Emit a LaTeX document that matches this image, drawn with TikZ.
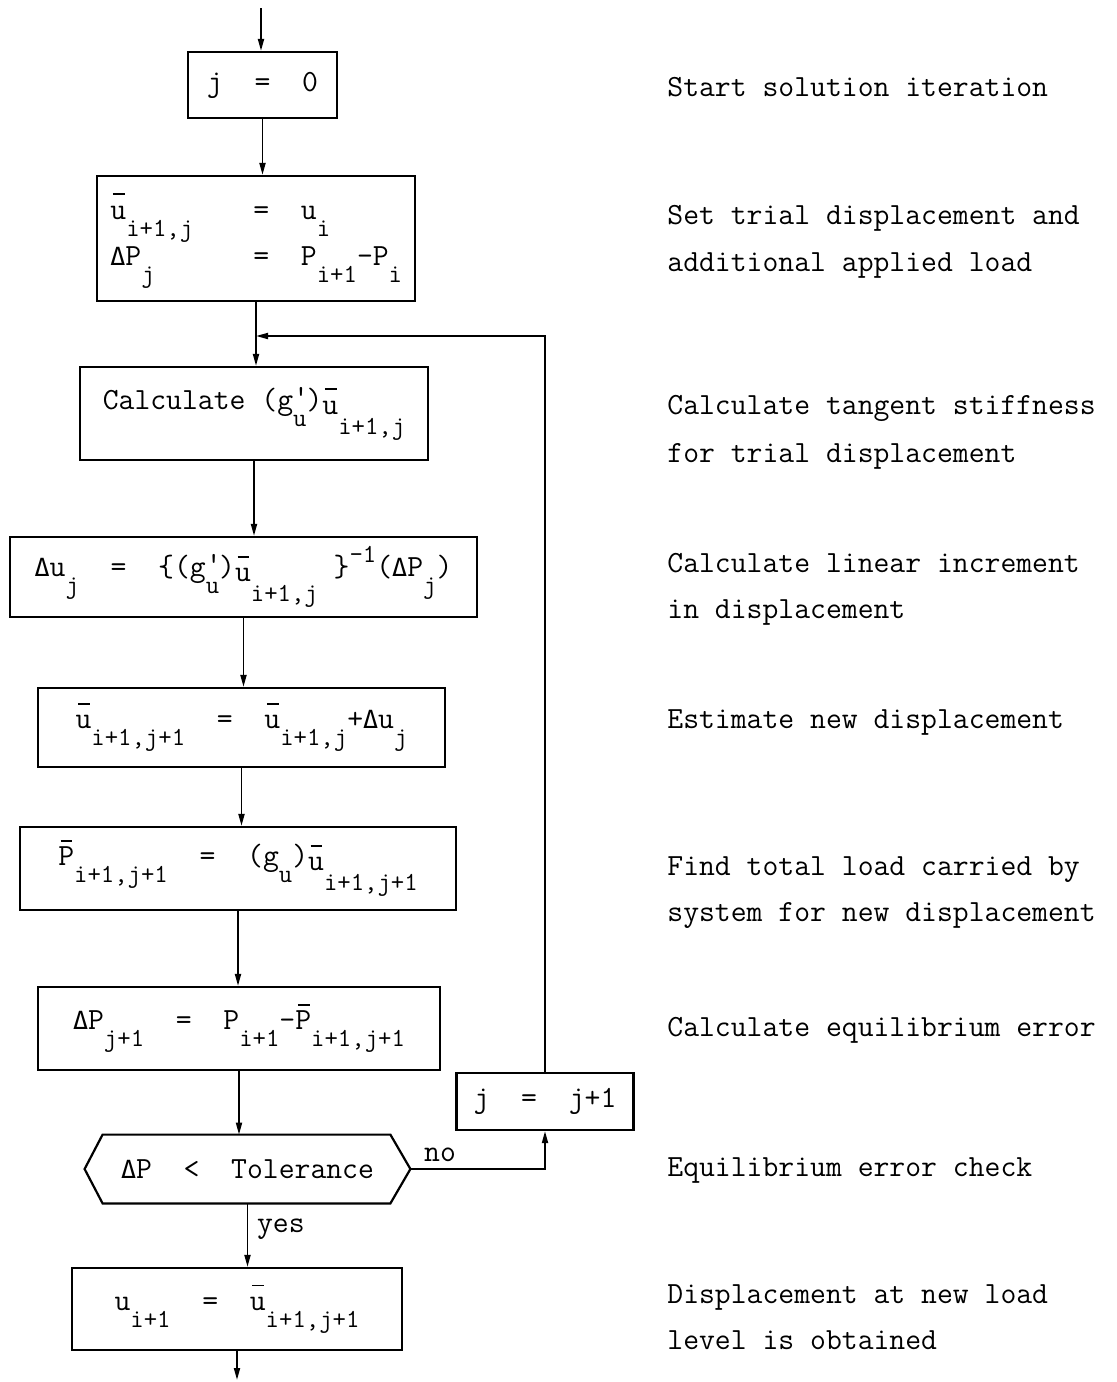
\documentclass[tikz,border=0pt]{standalone}
\usepackage{fontspec}
\newfontfamily\dejamono{DejaVu Sans Mono}
\usetikzlibrary{arrows.meta,calc}
\newcommand\mysubfont{\fontsize{13}{13}\selectfont}
\newcommand\myD{{\dejamono\fontsize{12.5}{12.5}\selectfont Δ}}
\newcommand\mydn[1]{\raisebox{-8.5pt}{\mysubfont #1}}
\newcommand\mydd[1]{\raisebox{-12.5pt}{\mysubfont #1}}
\newcommand\myup[1]{\raisebox{7pt}{\mysubfont #1}}
\newcommand\mybar[1]{\rlap{\hspace{0.08em}\raisebox{12pt}{\rule{0.38em}{0.9pt}}}#1}
\newcommand\mysubu{\raisebox{-2.5pt}{\mybar{u}}}
\newcommand\mygpu{g\rlap{\raisebox{1.5pt}{'}}\mydn{u}}
\begin{document}
\begin{tikzpicture}[x=0.5pt,y=-0.5pt,
  every node/.style={font=\ttfamily\fontsize{15.4}{23.5}\selectfont},
  box/.style={draw,line width=1.1pt,inner sep=2pt,align=center},
  arr/.style={draw,line width=0.9pt,-{Triangle[length=6pt,width=3pt]}},
  desc/.style={anchor=base west,inner sep=0pt},
  rowtxt/.style={anchor=base west,inner sep=0pt}]
\useasboundingbox (0,0) rectangle (1117,1382);
% boxes
\node[box,minimum width=74.5pt,minimum height=33pt] (j0) at (262.5,85) {j~~=~~0};
\node[box,minimum width=159pt,minimum height=62.5pt] (b2) at (256,238.5) {};
\node[rowtxt] (b2r1) at (110,219) {\makebox[71.5pt][l]{\mybar{u}\mydn{i+1,j}}=~~u\mydn{i}};
\node[rowtxt] (b2r2) at (110,265) {\makebox[71.5pt][l]{\myD P\mydn{j}}=~~P\mydn{i+1}-P\mydn{i}};
\node[box,minimum width=174pt,minimum height=46.5pt] (b3) at (254,413.5)
  {Calculate (\mygpu)\mysubu\mydd{i+1,j}};
\node[box,minimum width=233.5pt,minimum height=40pt] (b4) at (243.5,577)
  {\myD u\mydn{j}~~=~~\{(\mygpu)\mysubu\mydd{i+1,j}~\}\myup{-1}(\myD P\mydn{j})};
\node[box,minimum width=203.5pt,minimum height=39.5pt] (b5) at (241.5,727.5)
  {\mybar{u}\mydn{i+1,j+1}~~=~~\mybar{u}\mydn{i+1,j}+\myD u\mydn{j}};
\node[box,minimum width=218pt,minimum height=41.5pt] (b6) at (238,868.5)
  {\mybar{P}\mydn{i+1,j+1}~~=~~(g\mydn{u})\mysubu\mydd{i+1,j+1}};
\node[box,minimum width=201pt,minimum height=41.5pt] (b7) at (239,1028.5)
  {\myD P\mydn{j+1}~~=~~P\mydn{i+1}-\mybar{P}\mydn{i+1,j+1}};
\node[box,minimum width=88.5pt,minimum height=28.5pt] (jj) at (545,1101.5) {j~~=~~j+1};
\node[inner sep=0pt,minimum width=162.5pt,minimum height=34pt] (hex) at (247.5,1169) {\myD P~~<~~Tolerance};
\draw[line width=1.1pt] ($(hex.north west)+(18,0)$) -- ($(hex.north east)+(-20,0)$) -- (hex.east)
  -- ($(hex.south east)+(-20,0)$) -- ($(hex.south west)+(18,0)$) -- (hex.west) -- cycle;
\node[box,minimum width=165pt,minimum height=41pt] (b8) at (237,1309)
  {u\mydn{i+1}~~=~~\mybar{u}\mydn{i+1,j+1}};
% connectors
\coordinate (top) at (261,8);
\coordinate (lp) at (0,336);
\coordinate (bot) at (252,1380);
\draw[arr] (top) -- (top |- j0.north);
\draw[arr] (j0.south) -- (j0.south |- b2.north);
\draw[arr] (b2.south) -- (b2.south |- b3.north);
\draw[arr] (jj.north) -- (jj.north |- lp) -- (b2.south |- lp);
\draw[arr] (b3.south) -- (b3.south |- b4.north);
\draw[arr] (b4.south) -- (b4.south |- b5.north);
\draw[arr] (b5.south) -- (b5.south |- b6.north);
\draw[arr] (b6.south) -- (b6.south |- b7.north);
\draw[arr] (b7.south) -- (b7.south |- hex.north);
\draw[arr] (hex.east) -- node[pos=0.22,above=0pt] (nolab) {no} (hex.east -| jj.south) -- (jj.south);
\draw[arr] (hex.south) -- node[pos=0.4,right=1pt] (yeslab) {yes} (hex.south |- b8.north);
\draw[arr] (b8.south) -- (b8.south |- bot);
% descriptions
\node[desc] (d1) at (667,96) {Start solution iteration};
\node[desc] (d2a) at (667,224) {Set trial displacement and};
\node[desc] (d2b) at (667,271) {additional applied load};
\node[desc] (d3a) at (667,414) {Calculate tangent stiffness};
\node[desc] (d3b) at (667,462) {for trial displacement};
\node[desc] (d4a) at (667,572) {Calculate linear increment};
\node[desc] (d4b) at (667,618) {in displacement};
\node[desc] (d5) at (667,728) {Estimate new displacement};
\node[desc] (d6a) at (667,875) {Find total load carried by};
\node[desc] (d6b) at (667,921) {system for new displacement};
\node[desc] (d7) at (667,1036) {Calculate equilibrium error};
\node[desc] (d8) at (667,1176) {Equilibrium error check};
\node[desc] (d9a) at (667,1303) {Displacement at new load};
\node[desc] (d9b) at (667,1349) {level is obtained};
\end{tikzpicture}
\end{document}
